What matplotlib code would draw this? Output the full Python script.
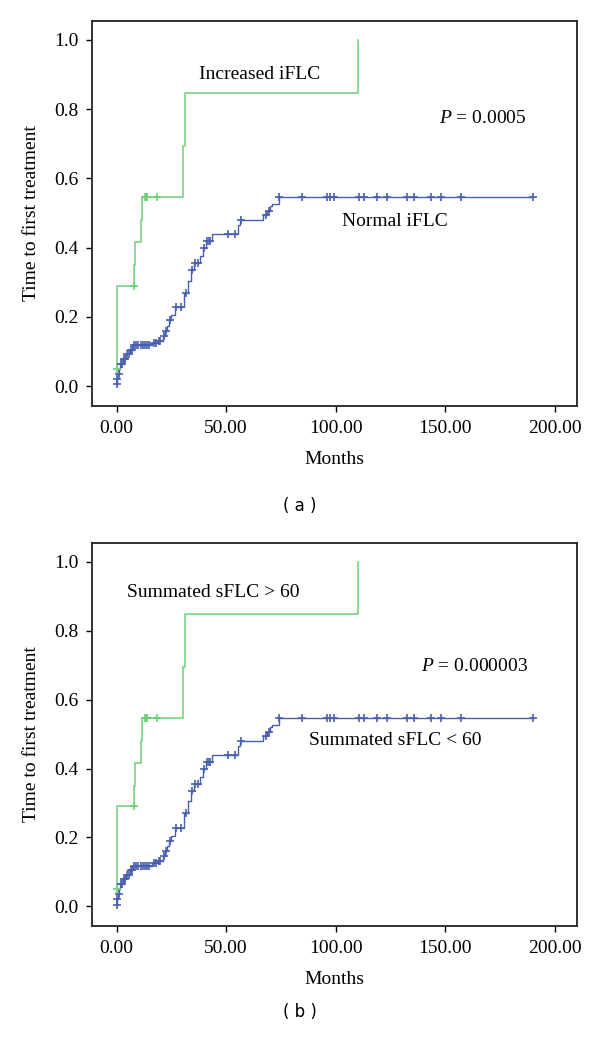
import numpy as np
import matplotlib
matplotlib.use("Agg")
import matplotlib.pyplot as plt
from matplotlib.ticker import FormatStrFormatter

plt.rcParams["font.family"] = ["Liberation Serif", "DejaVu Serif"]
plt.rcParams["mathtext.fontset"] = "custom"
plt.rcParams["mathtext.it"] = "Liberation Serif:italic"
plt.rcParams["mathtext.rm"] = "Liberation Serif"

# --- curva "normal" (azul): tiempos de evento y valor acumulado tras el paso
blue_t = [0, 0.3, 0.6, 1.2, 1.8, 3, 4.5, 6, 7.5, 16, 19, 21, 22, 23, 24, 25,
          26.5, 31, 32.5, 34, 35.5, 38, 39.5, 41, 43.5, 55.5, 56.5, 67, 68.5,
          70, 71, 74, 190]
blue_v = [0.005, 0.02, 0.035, 0.05, 0.065, 0.078, 0.092, 0.105, 0.118, 0.125,
          0.132, 0.145, 0.16, 0.175, 0.19, 0.205, 0.228, 0.27, 0.305, 0.335,
          0.355, 0.375, 0.40, 0.42, 0.44, 0.465, 0.48, 0.495, 0.505, 0.52,
          0.527, 0.547, 0.547]
blue_cens = [0, 0.4, 1, 2, 2.5, 3.5, 4, 5, 5.5, 6.5, 7, 8, 9, 10, 11, 12,
             13, 14, 15, 17, 18, 19.5, 20, 21.5, 22.5, 24.5, 27, 29.5, 31.5,
             34.5, 36, 37, 40, 41.5, 42, 42.5, 51, 54, 57, 68, 69.5, 74,
             84.6, 96, 97.5, 99, 110.5, 112.8, 118.9, 123.5, 132.7, 135.7,
             143.3, 147.9, 157, 190]

# --- curva "aumentada" (verde)
green_t = [0, 0.2, 8.2, 8.6, 11, 11.5, 30.3, 31.3, 110]
green_v = [0.05, 0.29, 0.35, 0.417, 0.48, 0.547, 0.695, 0.848, 1.0]
green_cens = [0, 8, 12.8, 13.5, 14, 18.6]

panels = [
    {"rect": [0.154, 0.6104, 0.8075, 0.3695], "tag": "( a )", "tag_y": 0.514,
     "hi": ("Increased iFLC", 37.5, 0.90), "lo": ("Normal iFLC", 103, 0.475),
     "p": ("0.0005", 147, 0.774)},
    {"rect": [0.154, 0.1113, 0.8075, 0.3678], "tag": "( b )", "tag_y": 0.029,
     "hi": ("Summated sFLC > 60", 4.6, 0.91), "lo": ("Summated sFLC < 60", 88, 0.481),
     "p": ("0.000003", 139, 0.696)},
]

GREEN = "#6ccf78"
BLUE = "#4a5fb0"
FS = 14


def value_at(t_list, v_list, t):
    idx = np.searchsorted(t_list, t, side="right") - 1
    return v_list[max(idx, 0)]


fig = plt.figure(figsize=(6, 10.42), dpi=100)

for p in panels:
    ax = fig.add_axes(p["rect"])
    ax.step(blue_t, blue_v, where="post", color=BLUE, lw=1.0)
    ax.step(green_t, green_v, where="post", color=GREEN, lw=1.1)

    bc = [value_at(blue_t, blue_v, t) for t in blue_cens]
    gc = [value_at(green_t, green_v, t) for t in green_cens]
    ax.plot(blue_cens, bc, "+", color=BLUE, ms=6, mew=1.2)
    ax.plot(green_cens, gc, "+", color=GREEN, ms=6, mew=1.2)

    ax.set_xlim(-11, 210)
    ax.set_ylim(-0.057, 1.055)
    ax.set_xticks([0, 50, 100, 150, 200])
    ax.set_yticks([0, 0.2, 0.4, 0.6, 0.8, 1.0])
    ax.xaxis.set_major_formatter(FormatStrFormatter("%.2f"))
    ax.yaxis.set_major_formatter(FormatStrFormatter("%.1f"))
    ax.tick_params(direction="out", length=4, width=1, labelsize=FS, pad=6)
    for s in ax.spines.values():
        s.set_linewidth(1.3)
        s.set_color("#222222")

    ax.set_xlabel("Months", fontsize=FS, labelpad=10)
    ax.set_ylabel("Time to first treatment", fontsize=FS, labelpad=10)

    txt, x, y = p["hi"]
    ax.text(x, y, txt, fontsize=FS, va="center", ha="left")
    txt, x, y = p["lo"]
    ax.text(x, y, txt, fontsize=FS, va="center", ha="left")
    txt, x, y = p["p"]
    ax.text(x, y, r"$P$ = " + txt, fontsize=FS, va="center", ha="left")

    fig.text(0.5, p["tag_y"], p["tag"], fontsize=12, family="DejaVu Sans",
             ha="center", va="center")

fig.savefig("out.png", dpi=100)
